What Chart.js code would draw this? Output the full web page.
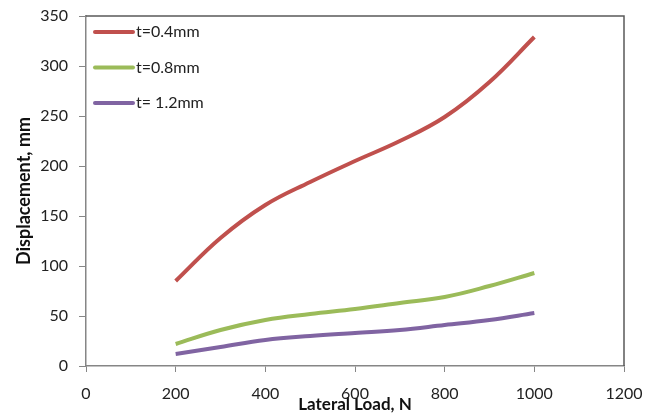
<!DOCTYPE html>
<html>
<head>
<meta charset="utf-8">
<script src="https://cdn.jsdelivr.net/npm/chart.js@4"></script>
<style>
  html, body { margin: 0; padding: 0; background: #fff; }
  #wrap { width: 662px; height: 417px; }
</style>
</head>
<body>
<div id="wrap"><canvas id="chart" width="662" height="417"></canvas></div>
<script>
// data
const loads = [200, 300, 400, 500, 600, 700, 800, 900, 1000];
const t04 = [85, 128, 161, 184, 205, 225, 249, 284, 329];
const t08 = [22, 36, 46, 52, 57, 63, 69, 80, 93];
const t12 = [12, 19, 26, 30, 33, 36, 41, 46, 53];
const seriesNames = ['t=0.4mm', 't=0.8mm', 't= 1.2mm'];
const seriesColors = ['#C0504D', '#9BBB59', '#8064A2'];

const FONT = 'Lato, "Open Sans", sans-serif';

function pts(ys) {
  return loads.map((x, i) => ({ x: x, y: ys[i] }));
}

// frame on top/right + legend inside the plot
const framePlugin = {
  id: 'frame',
  afterDraw(chart) {
    const { ctx, chartArea: a } = chart;
    ctx.save();
    ctx.strokeStyle = '#595959';
    ctx.lineWidth = 1.5;
    ctx.beginPath();
    ctx.moveTo(a.left, a.top);
    ctx.lineTo(a.right, a.top);
    ctx.lineTo(a.right, a.bottom);
    ctx.stroke();

    ctx.font = '16px ' + FONT;
    ctx.textBaseline = 'middle';
    ctx.fillStyle = '#222';
    chart.data.datasets.forEach((ds, i) => {
      const y = a.top + 16 + i * 35.5;
      ctx.strokeStyle = ds.borderColor;
      ctx.lineWidth = 4;
      ctx.lineCap = 'round';
      ctx.beginPath();
      ctx.moveTo(a.left + 9, y);
      ctx.lineTo(a.left + 47, y);
      ctx.stroke();
      ctx.fillText(ds.label, a.left + 50, y);
    });
    ctx.restore();
  }
};

const ctx = document.getElementById('chart').getContext('2d');
new Chart(ctx, {
  type: 'line',
  data: {
    datasets: [t04, t08, t12].map((ys, i) => ({
      label: seriesNames[i],
      data: pts(ys),
      borderColor: seriesColors[i],
      backgroundColor: seriesColors[i],
      borderWidth: 4,
      pointRadius: 0,
      tension: 0.4,
      fill: false
    }))
  },
  options: {
    responsive: false,
    animation: false,
    layout: { padding: { left: 0, right: 38, top: 16, bottom: 0 } },
    plugins: { legend: { display: false }, tooltip: { enabled: false } },
    scales: {
      x: {
        type: 'linear',
        min: 0, max: 1200,
        ticks: { stepSize: 200, color: '#222', font: { family: FONT, size: 16 }, padding: 12, maxRotation: 0,
                 callback: v => String(v) },
        grid: { drawOnChartArea: false, tickLength: 6, color: '#868686' },
        border: { color: '#868686', width: 1.5 },
        title: { display: true, text: 'Lateral Load, N', color: '#111', font: { family: FONT, size: 17, weight: 'bold', lineHeight: 1 }, padding: { top: 0, bottom: 4 } },
        afterFit(s) { s.height = 51; }
      },
      y: {
        min: 0, max: 350,
        ticks: { stepSize: 50, color: '#222', font: { family: FONT, size: 16, lineHeight: 1 }, padding: 11 },
        grid: { drawOnChartArea: false, tickLength: 7, color: '#868686' },
        border: { color: '#868686', width: 1.5 },
        title: { display: true, text: 'Displacement, mm', color: '#111', font: { family: FONT, size: 18, weight: 'bold', lineHeight: 1 }, padding: { top: 15, bottom: 0 } },
        afterFit(s) { s.width = 86; s.paddingTop = 0; }
      }
    }
  },
  plugins: [framePlugin]
});
</script>
</body>
</html>
